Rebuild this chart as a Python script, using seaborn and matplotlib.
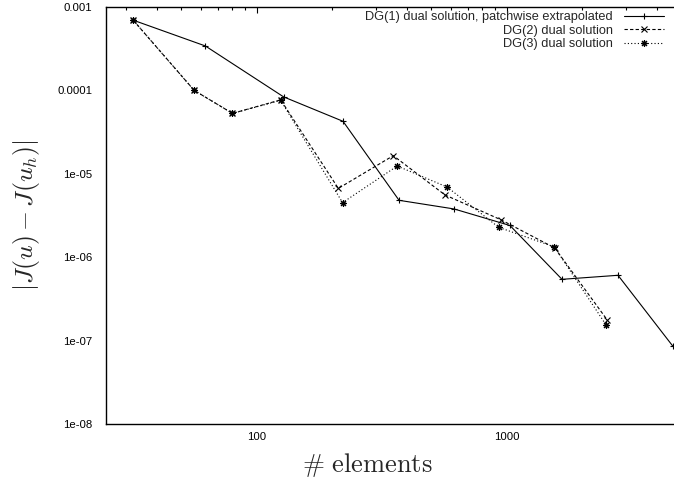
import matplotlib
matplotlib.use("Agg")
import matplotlib.pyplot as plt
import matplotlib.ticker as mticker
import numpy as np
import pandas as pd
import seaborn as sns

# values (log-log)
dg1_elems = [32.1, 62.4, 128.3, 221.8, 371.6, 616.6, 1032, 1667, 2792, 4634]
dg1_err = [6.95e-4, 3.41e-4, 8.36e-5, 4.26e-5, 4.81e-6, 3.79e-6, 2.40e-6, 5.43e-7, 6.07e-7, 8.53e-8]

dg2_elems = [32.1, 56.3, 80.1, 124.9, 212.4, 352.4, 567.6, 950, 1559, 2528]
dg2_err = [6.95e-4, 1.0e-4, 5.30e-5, 7.70e-5, 6.68e-6, 1.65e-5, 5.57e-6, 2.81e-6, 1.29e-6, 1.77e-7]

dg3_elems = [32.1, 56.3, 80.1, 124.9, 220.8, 365.5, 578.9, 931, 1553, 2498]
dg3_err = [6.95e-4, 1.0e-4, 5.30e-5, 7.60e-5, 4.51e-6, 1.24e-5, 6.93e-6, 2.28e-6, 1.33e-6, 1.55e-7]

labels = ["DG(1) dual solution, patchwise extrapolated",
          "DG(2) dual solution",
          "DG(3) dual solution"]

y_ticks = [1e-3, 1e-4, 1e-5, 1e-6, 1e-7, 1e-8]
y_ticklabels = ["0.001", "0.0001", "1e-05", "1e-06", "1e-07", "1e-08"]
x_ticks = [100, 1000]
x_ticklabels = ["100", "1000"]

sns.set_style("white")
plt.rcParams["font.family"] = ["Liberation Sans", "DejaVu Sans"]
plt.rcParams["mathtext.fontset"] = "cm"

fig = plt.figure(figsize=(6.74, 4.79), dpi=100)
ax = fig.add_axes([0.158, 0.1148, 0.842, 0.8706])

series = [
    (dg1_elems, dg1_err, "-", "+"),
    (dg2_elems, dg2_err, (0, (3, 2)), "x"),
    (dg3_elems, dg3_err, (0, (1, 2)), (8, 2, 0)),
]
for (xs, ys, ls, mk), lab in zip(series, labels):
    df = pd.DataFrame({"elements": xs, "err": ys})
    sns.lineplot(data=df, x="elements", y="err", ax=ax, color="black",
                 linestyle=ls, marker=mk, markersize=5, markeredgewidth=0.8,
                 markeredgecolor="black", linewidth=0.8, label=lab,
                 estimator=None, sort=False)

ax.set_xscale("log")
ax.set_yscale("log")
ax.set_xlim(25.1, 4677)
ax.set_ylim(1e-8, 1e-3)

ax.xaxis.set_major_locator(mticker.FixedLocator(x_ticks))
ax.xaxis.set_major_formatter(mticker.FixedFormatter(x_ticklabels))
ax.xaxis.set_minor_locator(mticker.LogLocator(base=10, subs=np.arange(2, 10)))
ax.xaxis.set_minor_formatter(mticker.NullFormatter())
ax.yaxis.set_major_locator(mticker.FixedLocator(y_ticks))
ax.yaxis.set_major_formatter(mticker.FixedFormatter(y_ticklabels))
ax.yaxis.set_minor_locator(mticker.LogLocator(base=10, subs=[2, 5, 8]))
ax.yaxis.set_minor_formatter(mticker.NullFormatter())

ax.tick_params(which="both", direction="in", top=True, right=False,
               labelsize=8.2, colors="black")
ax.tick_params(which="major", length=4, width=0.8)
ax.tick_params(which="minor", length=2, width=0.8)
ax.tick_params(axis="y", pad=10)
ax.tick_params(axis="x", pad=6)

for s in ["left", "bottom", "top"]:
    ax.spines[s].set_linewidth(1.0)
    ax.spines[s].set_color("black")
ax.spines["right"].set_visible(False)

ax.set_xlabel(r"$\#\ \mathrm{elements}$", fontsize=19)
ax.set_ylabel(r"$|J(u) - J(u_h)|$", fontsize=18.5)
ax.xaxis.set_label_coords((367 - 106.5) / (674 - 106.5), -0.065)
ax.yaxis.set_label_coords(-0.114, 0.5)

leg = ax.legend(loc="upper right", bbox_to_anchor=(664 / 674, 1 - 11 / 479),
                bbox_transform=fig.transFigure, frameon=False, markerfirst=False,
                fontsize=9.2, handlelength=3.1, handletextpad=0.9,
                labelspacing=0.13, borderpad=0, borderaxespad=0, numpoints=1)

fig.savefig("out.png", dpi=100)
